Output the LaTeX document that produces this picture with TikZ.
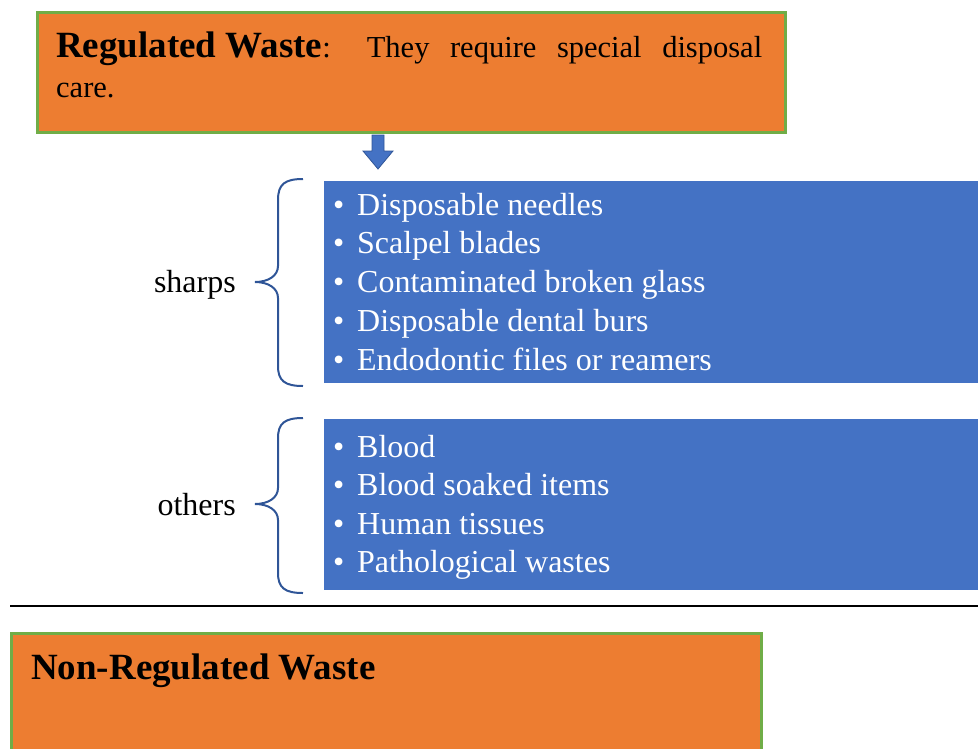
\documentclass[tikz,border=0pt]{standalone}
\usepackage{fontspec}
\setmainfont{Liberation Serif}
\definecolor{wasteorange}{HTML}{ED7D31}
\definecolor{boxgreen}{HTML}{70AD47}
\definecolor{listblue}{HTML}{4472C4}
\definecolor{bracedark}{HTML}{2F5597}
\tikzset{
 titlebox/.style={draw=boxgreen,fill=wasteorange,line width=2.5pt,anchor=north west,inner sep=0pt},
 listbox/.style={fill=listblue,anchor=north west,inner sep=0pt},
 bulletline/.style={text=white,anchor=base west,inner sep=0pt,font=\fontsize{32}{38}\selectfont},
 grouplabel/.style={anchor=base east,inner sep=0pt,font=\fontsize{32}{38}\selectfont},
 bracepath/.style={draw=bracedark,line width=2pt},
}
\newcommand{\bul}{\makebox[24pt][l]{\textbullet}}
\begin{document}
\begin{tikzpicture}[x=1pt,y=-1pt]
 \useasboundingbox (0,0) rectangle (978,748);
 % regulated waste
 \node[titlebox,minimum width=748pt,minimum height=120pt] (regbox) at (36,11) {};
 \node[anchor=north west,inner sep=0pt,text width=706pt,align=justify,
   font=\fontsize{30.5}{40}\selectfont] (regtext) at (56,32)
   {\hbox{\fontsize{37}{40}\selectfont\bfseries Regulated Waste}: They require special disposal\linebreak care.};
 % block arrow
 \draw[fill=listblue,draw=bracedark,line width=0.8pt]
   (372,135)--(384,135)--(384,151)--(393,151)--(378,169)--(363,151)--(372,151)--cycle;
 % sharps
 \node[listbox,minimum width=660pt,minimum height=202pt] (sharpsbox) at (324,181) {};
 \foreach \txt [count=\i from 0] in {Disposable needles,Scalpel blades,
   Contaminated broken glass,Disposable dental burs,Endodontic files or reamers}
   \node[bulletline] (s\i) at (333,215+38.8*\i) {\bul\txt};
 \draw[bracepath] (303,179) .. controls (285,179) and (278,184) .. (278,200) -- (278,266)
   .. controls (278,276) and (268,282) .. (255,282)
   .. controls (268,282) and (278,288) .. (278,298) -- (278,366)
   .. controls (278,381) and (285,386) .. (303,386);
 \node[grouplabel] (sharps) at (236,292) {sharps};
 % others
 \node[listbox,minimum width=660pt,minimum height=171pt] (othersbox) at (324,419) {};
 \foreach \txt [count=\i from 0] in {Blood,Blood soaked items,Human tissues,Pathological wastes}
   \node[bulletline] (o\i) at (333,457+38.5*\i) {\bul\txt};
 \draw[bracepath] (303,418) .. controls (285,418) and (278,423) .. (278,438) -- (278,488)
   .. controls (278,498) and (268,504) .. (255,504)
   .. controls (268,504) and (278,510) .. (278,520) -- (278,573)
   .. controls (278,588) and (285,593) .. (303,593);
 \node[grouplabel] (others) at (236,515) {others};
 % divider
 \draw[line width=2pt] (10,606) -- (978,606);
 % non-regulated waste
 \node[titlebox,minimum width=750pt,minimum height=140pt] (nonregbox) at (10,632) {};
 \node[anchor=base west,inner sep=0pt,font=\fontsize{37}{40}\selectfont\bfseries] (nonregtext)
   at (31,679) {Non-Regulated Waste};
\end{tikzpicture}
\end{document}
